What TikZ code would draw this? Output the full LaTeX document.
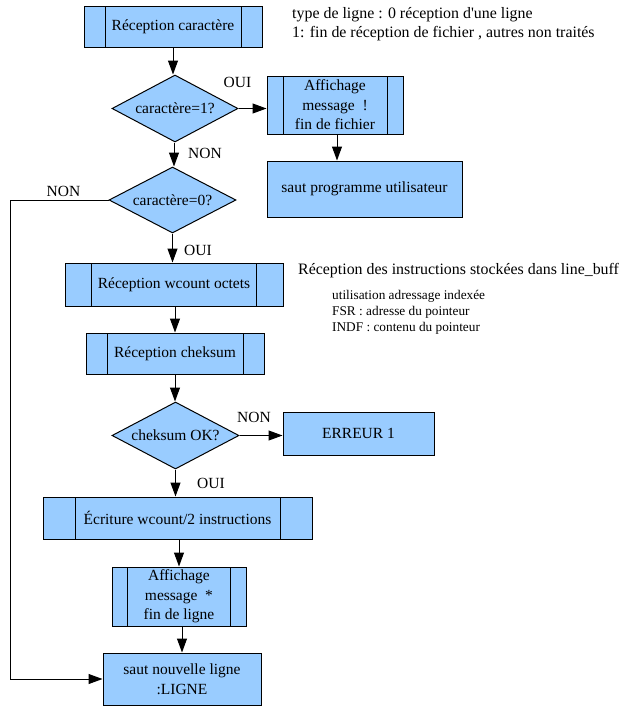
\documentclass[tikz,border=0pt]{standalone}
\usepackage{fontspec}
\setmainfont{Liberation Serif}
\usetikzlibrary{shapes.geometric,arrows.meta}
\definecolor{boxblue}{HTML}{99CCFF}
\begin{document}
\begin{tikzpicture}[x=1pt,y=-1pt,
  every node/.style={font=\fontsize{15.5}{19.5}\selectfont},
  base/.style={draw=black,line width=1pt,fill=boxblue,inner sep=0pt,align=center},
  procbox/.style={base,rectangle},
  subbox/.style={base,rectangle,path picture={
     \draw[line width=1pt] ([xshift=#1]path picture bounding box.north west) -- ([xshift=#1]path picture bounding box.south west)
     ([xshift=-#1]path picture bounding box.north east) -- ([xshift=-#1]path picture bounding box.south east);}},
  decision/.style={base,diamond,aspect=1.88},
  arr/.style={line width=1pt,-{Triangle[width=10pt,length=14pt]}},
  link/.style={line width=1pt},
  lbl/.style={inner sep=0pt},
  note/.style={inner sep=0pt,anchor=west,font=\fontsize{15.9}{19}\selectfont},
  small/.style={inner sep=0pt,anchor=west,font=\fontsize{13.3}{16}\selectfont}]
\useasboundingbox (0,0) rectangle (640,707);

\node[subbox=21pt,minimum width=178pt,minimum height=41pt] (rc) at (173,26.5) {Réception caractère};
\node[decision,minimum width=126pt,minimum height=67pt] (d1) at (175,108.5) {caractère=1?};
\node[subbox=16pt,minimum width=136pt,minimum height=58pt] (aff1) at (335,105) {Affichage\\message\ \ !\\fin de fichier};
\node[procbox,minimum width=195pt,minimum height=56pt] (spu) at (364.5,189) {saut programme utilisateur};
\node[decision,minimum width=127pt,minimum height=66pt] (d2) at (172.5,200) {caractère=0?};
\node[subbox=26.5pt,minimum width=218pt,minimum height=43pt] (wc) at (174,284.5) {Réception wcount octets};
\node[subbox=21pt,minimum width=178pt,minimum height=41pt] (ck) at (175,353.5) {Réception cheksum};
\node[decision,minimum width=127pt,minimum height=67pt] (d3) at (175.5,435.5) {cheksum OK?};
\node[procbox,minimum width=151pt,minimum height=43pt] (err) at (358.5,433.5) {ERREUR 1};
\node[subbox=32pt,minimum width=269pt,minimum height=42pt] (ecr) at (177.5,518) {Écriture wcount/2 instructions};
\node[subbox=15.5pt,minimum width=134pt,minimum height=59pt] (aff2) at (179,596.5) {Affichage\\message\ \ *\\fin de ligne};
\node[procbox,minimum width=158pt,minimum height=52pt] (snl) at (182,679) {saut nouvelle ligne\\:LIGNE};

\coordinate (lft) at (10,200);

\draw[arr] (rc.south) -- (rc.south |- d1.north);
\draw[arr] (d1.east) -- (d1.east -| aff1.west);
\draw[arr] ([xshift=2pt]aff1.south) -- ([xshift=2pt]aff1.south |- spu.north);
\draw[arr] ([xshift=-1pt]d1.south) -- ([xshift=-1pt]d1.south |- d2.north);
\draw[arr] (d2.west) -- (lft) |- (snl.west);
\draw[arr] (d2.south) -- (d2.south |- wc.north);
\draw[arr] (ck.north |- wc.south) -- (ck.north);
\draw[arr] (ck.south) -- (ck.south |- d3.north);
\draw[arr] (d3.east) -- (d3.east -| err.west);
\draw[arr] (d3.south) -- (d3.south |- ecr.north);
\draw[arr] (aff2.north |- ecr.south) -- (aff2.north);
\draw[arr] (snl.north |- aff2.south) -- (snl.north);

\node[lbl] (l1) at (237.5,82) {OUI};
\node[lbl] (l2) at (205,153) {NON};
\node[lbl] (l3) at (63.5,191) {NON};
\node[lbl] (l4) at (198,250) {OUI};
\node[lbl] (l5) at (254,417) {NON};
\node[lbl] (l6) at (211,483) {OUI};

\node[note] (t1) at (292,15) {type de ligne : 0 réception d\textquotesingle une ligne};
\node[note] (t2) at (292,34) {1: fin de réception de fichier , autres non traités};
\node[note] (t3) at (298,271) {Réception des instructions stockées dans line\_buff};
\node[small] (t4) at (332,296) {utilisation adressage indexée};
\node[small] (t5) at (332,312) {FSR : adresse du pointeur};
\node[small] (t6) at (332,328) {INDF : contenu du pointeur};
\end{tikzpicture}
\end{document}
